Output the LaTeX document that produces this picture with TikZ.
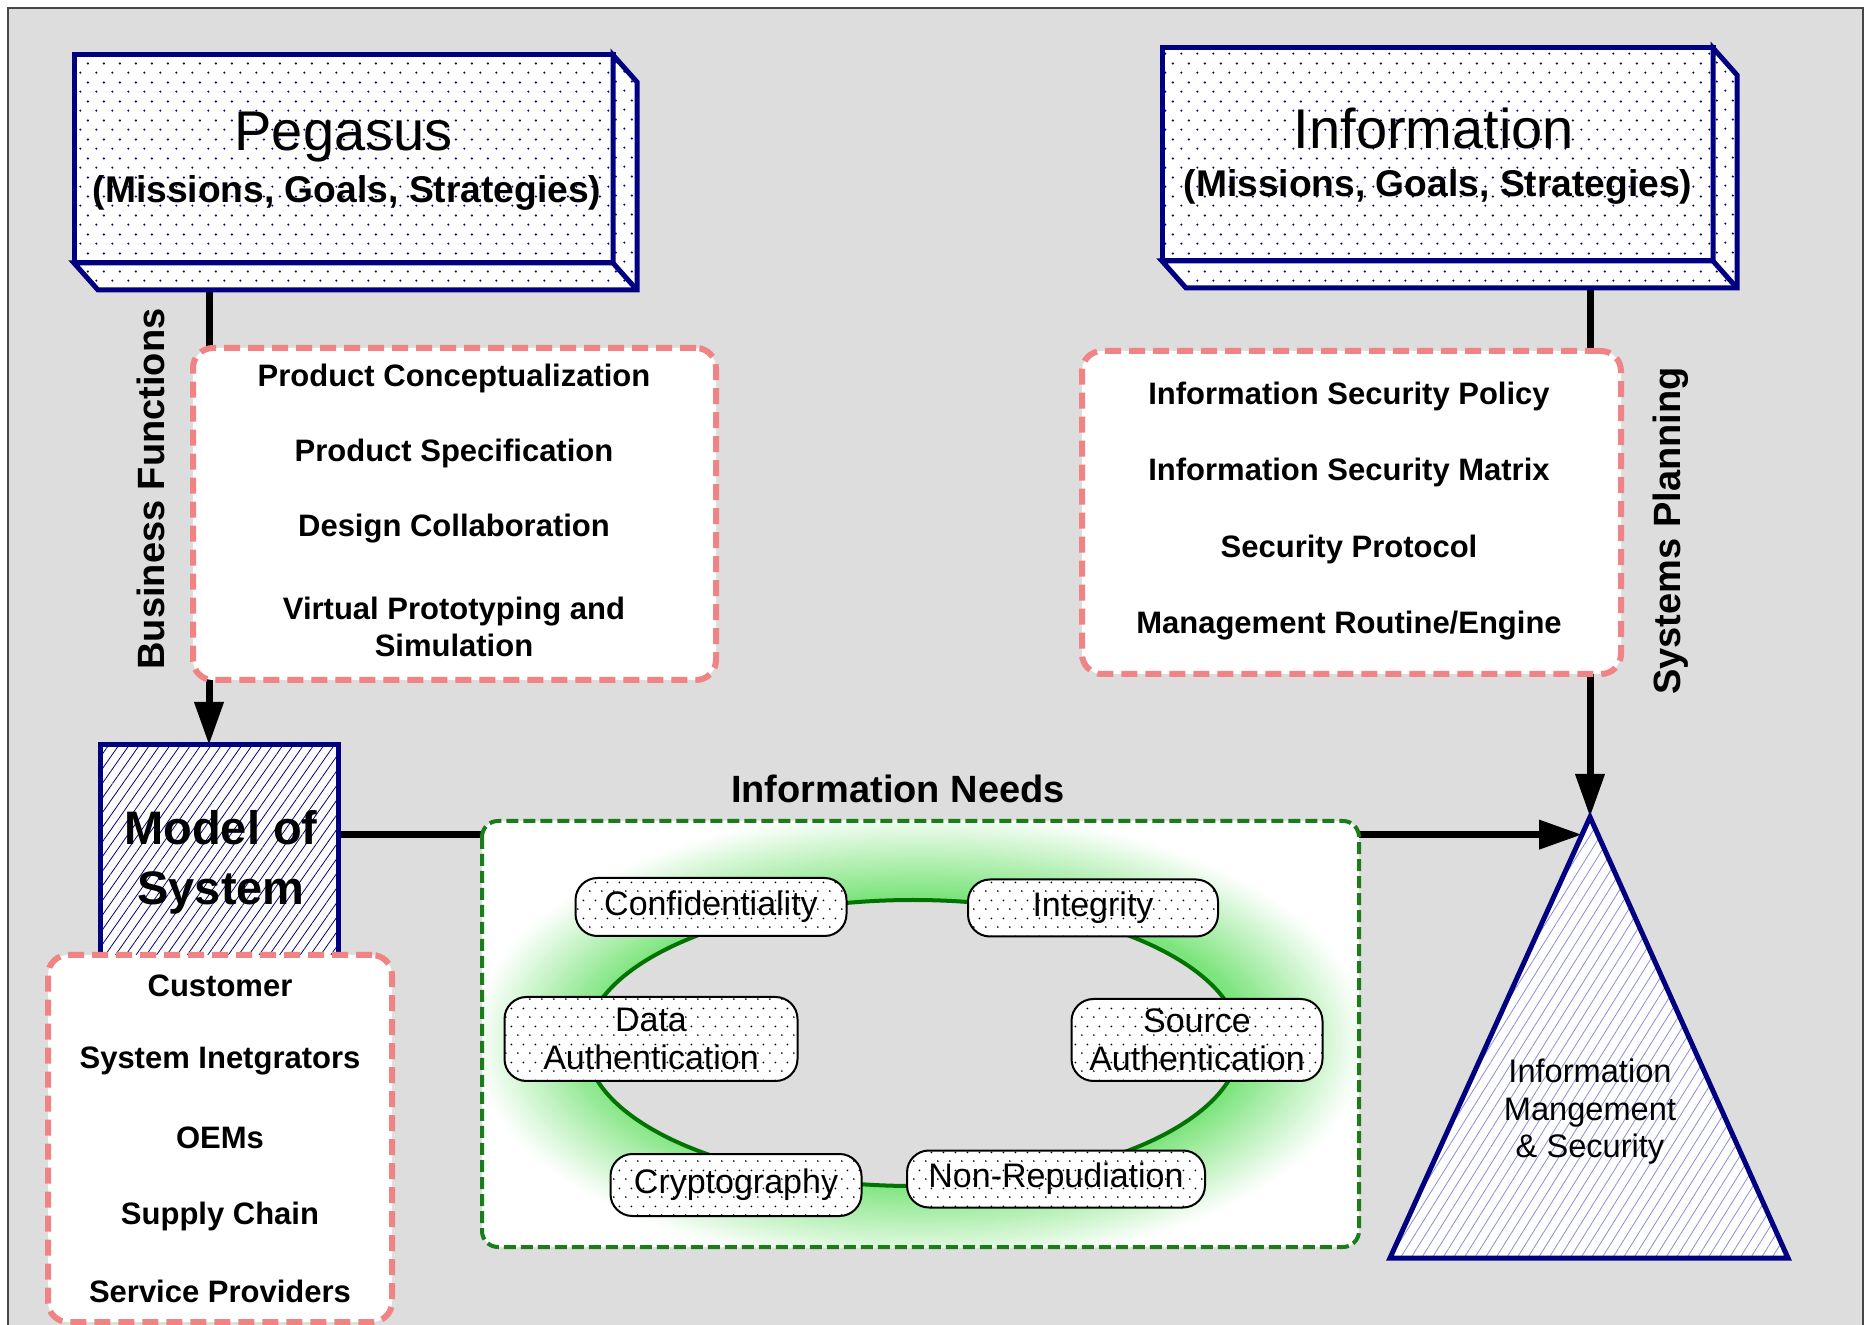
\documentclass[tikz,border=0pt]{standalone}
\usepackage{fontspec}
\setmainfont{Liberation Sans}
\usetikzlibrary{arrows.meta,patterns.meta,calc}

\definecolor{bgray}{RGB}{221,221,221}
\definecolor{framec}{RGB}{70,70,70}
\definecolor{navyc}{RGB}{0,0,128}
\definecolor{pinkc}{RGB}{240,132,132}
\definecolor{dgreen}{RGB}{25,125,25}
\definecolor{ringc}{RGB}{0,115,0}
\definecolor{glowc}{RGB}{110,225,110}
\definecolor{hatchc}{RGB}{140,140,220}

% staggered dot grids
\pgfdeclarepattern{
  name=navydots,
  type=uncolored,
  bottom left={\pgfpoint{0pt}{0pt}},
  top right={\pgfpoint{7.75pt}{9.3pt}},
  tile size={\pgfpoint{7.75pt}{9.3pt}},
  code={
    \pgfpathcircle{\pgfpoint{1.2pt}{1.2pt}}{0.6pt}
    \pgfpathcircle{\pgfpoint{5.075pt}{5.85pt}}{0.6pt}
    \pgfusepath{fill}
  }
}
\pgfdeclarepattern{
  name=blackdots,
  type=uncolored,
  bottom left={\pgfpoint{0pt}{0pt}},
  top right={\pgfpoint{6pt}{9pt}},
  tile size={\pgfpoint{6pt}{9pt}},
  code={
    \pgfpathcircle{\pgfpoint{1pt}{1pt}}{0.5pt}
    \pgfpathcircle{\pgfpoint{4pt}{5.5pt}}{0.5pt}
    \pgfusepath{fill}
  }
}

\pgfdeclarelayer{paper}
\pgfdeclarelayer{wires}
\pgfsetlayers{paper,wires,main}

\begin{document}
\begin{tikzpicture}[x=0.5pt,y=-0.5pt,
  every node/.style={outer sep=0pt},
  conn/.style={line width=3.5pt, -{Triangle[length=21.5pt,width=14pt]}},
  face/.style={draw=navyc, line width=2.5pt, line join=miter, preaction={fill=white},
    pattern=navydots, pattern color=navyc, inner sep=0pt},
  listbox/.style={draw=pinkc, line width=3pt, dash pattern=on 8pt off 4pt,
    rounded corners=10pt, fill=white, inner sep=0pt},
  item/.style={font=\fontsize{15.5}{18.5}\selectfont\bfseries, align=center, inner sep=0pt},
  ttl/.style={font=\fontsize{28}{32}\selectfont, inner sep=0pt},
  subttl/.style={font=\fontsize{18.6}{22}\selectfont\bfseries, inner sep=0pt},
  lab/.style={font=\fontsize{19}{22}\selectfont\bfseries, inner sep=0pt},
  ringnode/.style={draw=black, line width=1pt, rounded corners=11pt, preaction={fill=white},
    pattern=blackdots, pattern color=black, font=\fontsize{17}{19}\selectfont,
    align=center, inner sep=0pt},
  gdash/.style={draw=dgreen, line width=2pt, dash pattern=on 6pt off 2.5pt, rounded corners=8pt}
]
\useasboundingbox (0,0) rectangle (1865,1325);

\begin{pgfonlayer}{paper}
  \fill[white] (0,0) rectangle (1865,1325);
  \draw[framec, line width=1pt, fill=bgray] (8,8) rectangle (1863,1360);
\end{pgfonlayer}

% ---------- Pegasus block ----------
\node[face, minimum width=269.5pt, minimum height=104pt] (peg) at (343.5,159) {};
\draw[face] (peg.north east) -- ++(24,27) -- ($(peg.south east)+(24,27)$)
  -- ($(peg.south west)+(24,27)$) -- (peg.south west) -- (peg.south east) -- cycle;
\draw[navyc, line width=2.5pt] (peg.south east) -- ++(24,27);
\node[ttl] (pegt) at (343.5,137) {Pegasus};
\node[subttl] (pegs) at (347,193) {(Missions, Goals, Strategies)};
\coordinate (pegdrop) at ($(peg.south west)+(135,27)$);

% ---------- Information block ----------
\node[face, minimum width=275.5pt, minimum height=106.5pt] (inf) at (1437.5,154.5) {};
\draw[face] (inf.north east) -- ++(24,27) -- ($(inf.south east)+(24,27)$)
  -- ($(inf.south west)+(24,27)$) -- (inf.south west) -- (inf.south east) -- cycle;
\draw[navyc, line width=2.5pt] (inf.south east) -- ++(24,27);
\node[ttl] (inft) at (1434,128) {Information};
\node[subttl] (infs) at (1438,187) {(Missions, Goals, Strategies)};
\coordinate (infdrop) at ($(inf.south west)+(428,27)$);

% ---------- business functions list ----------
\node[listbox, minimum width=261.5pt, minimum height=166pt] (bf) at (454.5,514) {};
\node[item] (bf1) at (454,378) {Product Conceptualization};
\node[item] (bf2) at (454,453) {Product Specification};
\node[item] (bf3) at (454,529) {Design Collaboration};
\node[item] (bf4) at (454,627) {Virtual Prototyping and\\Simulation};
\node[lab, rotate=90] (bflab) at (151,489) {Business Functions};

% ---------- systems planning list ----------
\node[listbox, minimum width=269.5pt, minimum height=161.5pt] (sp) at (1351.5,512.5) {};
\node[item] (sp1) at (1349,396) {Information Security Policy};
\node[item] (sp2) at (1349,472) {Information Security Matrix};
\node[item] (sp3) at (1349,549) {Security Protocol};
\node[item] (sp4) at (1349,626) {Management Routine/Engine};
\node[lab, rotate=90] (splab) at (1671,531) {Systems Planning};

% ---------- model of system ----------
\node[draw=navyc, line width=2.5pt, preaction={fill=white},
  pattern={Lines[angle=55,distance=4.2pt,line width=0.4pt]}, pattern color=navyc,
  minimum width=119pt, minimum height=110pt, inner sep=0pt] (mos) at (219,855) {};
\node[font=\fontsize{23.5}{30}\selectfont\bfseries, align=center, inner sep=0pt]
  (most) at (221,862) {Model of\\System};

% ---------- stakeholders list ----------
\node[listbox, minimum width=172pt, minimum height=183.5pt] (cu) at (220,1138.5) {};
\node[item] (cu1) at (220,986) {Customer};
\node[item] (cu2) at (220,1061) {System Inetgrators};
\node[item] (cu3) at (220,1138) {OEMs};
\node[item] (cu4) at (220,1216) {Supply Chain};
\node[item] (cu5) at (220,1291) {Service Providers};

% ---------- information needs ----------
\node[fill=white, rounded corners=8pt, minimum width=438.5pt, minimum height=213pt,
  inner sep=0pt] (need) at (920.5,1034) {};
\begin{scope}
  \clip[rounded corners=8pt] (need.north west) rectangle (need.south east);
  \foreach \k in {50,49,...,1}{
    \pgfmathsetmacro{\rx}{327+\k*2.4}
    \pgfmathsetmacro{\ry}{143+\k*1.75}
    \pgfmathtruncatemacro{\t}{92*(1-\k/51)^1.05}
    \fill[glowc!\t!white] (920,1040) ellipse ({\rx} and {\ry});
  }
\end{scope}
\fill[bgray] (913,1043) ellipse (327 and 143);
\draw[ringc, line width=2pt] (913,1043) ellipse (327 and 143);
\draw[gdash] (need.north west) rectangle (need.south east);
\node[lab] (needlab) at (898,789) {Information Needs};

\node[ringnode, minimum width=135.5pt, minimum height=29pt] (conf) at (711,907) {Confidentiality};
\node[ringnode, minimum width=125pt, minimum height=28.5pt] (integ) at (1093,908) {Integrity};
\node[ringnode, minimum width=146.5pt, minimum height=42pt] (dauth) at (651,1039) {Data\\Authentication};
\node[ringnode, minimum width=125.5pt, minimum height=41pt] (sauth) at (1197,1040) {Source\\Authentication};
\node[ringnode, minimum width=125.5pt, minimum height=31pt] (crypt) at (736,1185) {Cryptography};
\node[ringnode, minimum width=149pt, minimum height=28.5pt] (nonrep) at (1056,1179) {Non-Repudiation};

% ---------- information management pyramid ----------
\coordinate (apex) at (1590,817);
\coordinate (tbr) at (1788,1258);
\coordinate (tbl) at (1390,1258);
\draw[navyc, line width=2.5pt, line join=miter, preaction={fill=white},
  pattern={Lines[angle=58,distance=4.5pt,line width=0.4pt]}, pattern color=hatchc]
  (apex) -- (tbr) -- (tbl) -- cycle;
\coordinate (tin) at ($(apex)!0.04!(tbl)$);
\node[font=\fontsize{16.3}{18.75}\selectfont, align=center, inner sep=0pt]
  (imst) at (1590,1112) {Information\\Mangement\\\& Security};

% ---------- connectors ----------
\begin{pgfonlayer}{wires}
  \draw[conn] (pegdrop) -- (pegdrop |- mos.north);
  \draw[conn] (infdrop) -- (apex);
  \draw[conn] (mos.east |- tin) -- (tin);
\end{pgfonlayer}
\end{tikzpicture}
\end{document}
